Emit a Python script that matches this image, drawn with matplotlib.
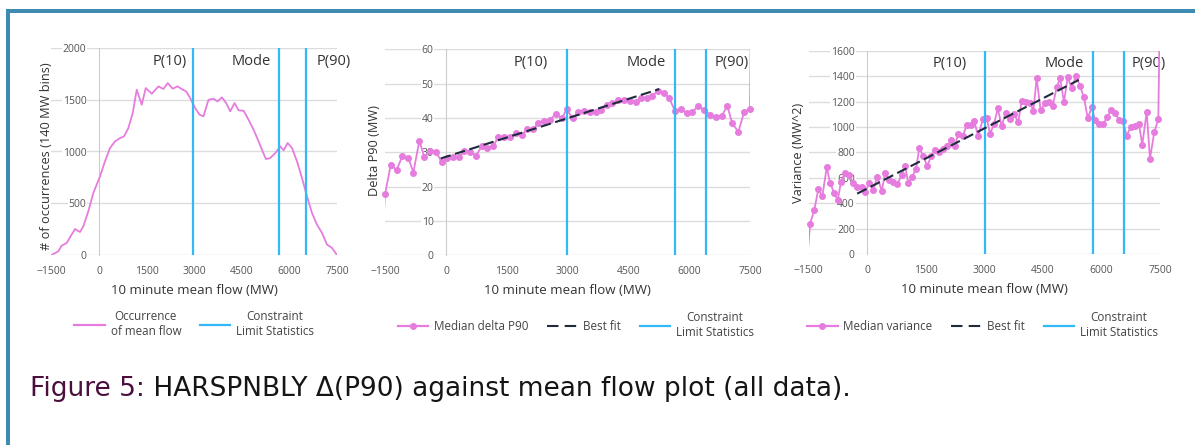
import numpy as np
import matplotlib
matplotlib.use("Agg")
import matplotlib.pyplot as plt
from matplotlib.patches import Rectangle
from matplotlib.lines import Line2D

plt.rcParams['font.family'] = ['Open Sans', 'DejaVu Sans']

PINK = "#e67cde"
BLUE = "#33b9f5"
NAVY = "#1d2b3b"
GRID = "#dcdcdc"
TEXT = "#333333"

# ---- data ----
x_ticks = [-1500, 0, 1500, 3000, 4500, 6000, 7500]
stat_names = ["P(10)", "Mode", "P(90)"]

# left: occurrences of mean flow (140 MW bins)
occ_x = [-1500, -1283, -1178, -1020, -757, -600, -494, -337, -179, 32, 189, 347, 505,
         663, 789, 926, 1062, 1189, 1347, 1473, 1662, 1873, 2030, 2167, 2325, 2472,
         2640, 2746, 2872, 3030, 3167, 3293, 3451, 3609, 3735, 3872, 4008, 4135, 4272,
         4398, 4556, 4713, 4871, 5029, 5134, 5260, 5397, 5555, 5713, 5818, 5944, 6081,
         6239, 6397, 6555, 6712, 6870, 7028, 7186, 7343, 7500]
occ_y = [0, 35, 90, 116, 251, 222, 277, 422, 599, 760, 905, 1034, 1098,
         1130, 1146, 1227, 1372, 1597, 1452, 1613, 1558, 1629, 1604, 1661, 1607, 1629,
         1597, 1581, 1517, 1420, 1356, 1340, 1500, 1510, 1484, 1523, 1468, 1388, 1468,
         1398, 1394, 1307, 1211, 1098, 1018, 927, 937, 985, 1050, 1011, 1082, 1034,
         905, 744, 567, 406, 293, 213, 100, 68, 0]
occ_stats = [2962, 5673, 6524]
occ_label_x = [2222, 4812, 7385]

# middle: median delta P90
p90_x = [-1560, -1505, -1365, -1217, -1077, -929, -806, -658, -535, -395, -247,
         -107, 33, 181, 329, 452, 592, 740, 880, 1020, 1168,
         1291, 1439, 1579, 1719, 1867, 2007, 2155, 2278, 2418, 2566,
         2706, 2854, 2977, 3125, 3265, 3405, 3553, 3693, 3824, 3964,
         4104, 4252, 4392, 4540, 4679, 4811, 4951, 5091, 5239, 5379,
         5510, 5650, 5798, 5938, 6078, 6226, 6366, 6513, 6653, 6801,
         6941, 7064, 7212, 7352, 7500, 7640]
p90_y = [6.0, 17.8, 26.2, 24.9, 28.9, 28.4, 24.1, 33.3, 28.7, 30.5, 30.2,
         27.1, 28.3, 28.7, 28.6, 30.5, 30.2, 29.0, 31.7, 31.2, 31.7,
         34.6, 34.6, 34.6, 35.5, 35.1, 36.8, 36.7, 38.6, 39.2, 39.4,
         41.2, 39.9, 42.5, 39.9, 41.7, 42.1, 41.6, 41.8, 42.3, 43.8,
         44.5, 45.1, 45.2, 45.0, 44.6, 45.7, 45.7, 46.5, 47.9, 47.4,
         45.7, 42.0, 42.5, 41.4, 41.8, 43.5, 42.3, 41.0, 40.2, 40.6,
         43.5, 38.4, 36.0, 41.6, 42.7, 200.0]
p90_fit_x = [-130, 5260]
p90_fit_y = [28.2, 48.4]
p90_stats = [2985, 5650, 6415]
p90_label_x = [2097, 4930, 7040]

# right: median variance
var_x = [-1572, -1468, -1357, -1255, -1153, -1040, -956, -846, -759, -674, -571, -461,
         -359, -256, -143, -59, 51, 154, 256, 369, 454, 564, 666, 769, 881, 966,
         1051, 1153, 1248, 1333, 1435, 1537, 1632, 1735, 1845, 1948, 2050, 2145,
         2247, 2332, 2445, 2547, 2645, 2734, 2845, 2957, 3059, 3144, 3246, 3341,
         3443, 3545, 3656, 3759, 3869, 3955, 4066, 4168, 4254, 4339, 4442, 4553,
         4655, 4750, 4853, 4937, 5040, 5134, 5237, 5347, 5450, 5553, 5647, 5749,
         5834, 5936, 6047, 6150, 6245, 6355, 6449, 6543, 6646, 6749, 6859, 6961,
         7046, 7159, 7243, 7353, 7456, 7560]
var_y = [-170, 238, 350, 511, 455, 683, 561, 477, 424, 569, 641, 622,
         561, 530, 525, 490, 557, 503, 609, 495, 636, 583, 569, 549, 622, 696,
         557, 609, 670, 835, 768, 694, 768, 816, 800, 827, 853, 895,
         853, 948, 927, 1015, 1015, 1046, 927, 1060, 1070, 948, 1020, 1147,
         1006, 1113, 1065, 1099, 1038, 1205, 1197, 1192, 1126, 1383, 1131, 1185,
         1197, 1166, 1312, 1383, 1197, 1391, 1304, 1404, 1320, 1232, 1068, 1153,
         1054, 1020, 1020, 1081, 1134, 1107, 1054, 1046, 932, 999, 1006, 1020,
         861, 1118, 750, 959, 1060, 3200]
var_fit_x = [-260, 5420]
var_fit_y = [475, 1370]
var_stats = [3006, 5791, 6577]
var_label_x = [2106, 5052, 7218]

W, H = 1195, 445
fig = plt.figure(figsize=(W / 100, H / 100), dpi=100)
FIT_DASH = (5, 2.2)
LEG_DASH = (5.5, 3)


def px_axes(x0, x1, ytop, ybot):
    return fig.add_axes([x0 / W, 1 - ybot / H, (x1 - x0) / W, (ybot - ytop) / H])


def style(ax, ylim, yticks, ylabel, ylab_pos):
    ax.set_xlim(-1500, 7500)
    ax.set_ylim(*ylim)
    ax.set_xticks(x_ticks)
    ax.set_yticks(yticks)
    for s in ["top", "right", "bottom"]:
        ax.spines[s].set_visible(False)
    ax.spines["left"].set_position(("data", 0))
    ax.spines["left"].set_color("#cccccc")
    ax.grid(axis="y", color=GRID, lw=1)
    ax.set_axisbelow(True)
    ax.tick_params(length=0, labelsize=7.5, labelcolor="#555555")
    ax.tick_params(axis="x", pad=8)
    ax.tick_params(axis="y", pad=9)
    for lab in ax.get_yticklabels():
        lab.set_bbox(dict(facecolor="white", edgecolor="none", pad=0.6))
    ax.set_xlabel("10 minute mean flow (MW)", fontsize=9.5, color=TEXT, labelpad=5)
    ax.set_ylabel(ylabel, fontsize=9.2, color=TEXT)
    ax.yaxis.set_label_coords(*ylab_pos)


def stat_lines(ax, xs, label_xs):
    for xv in xs:
        ax.axvline(xv, color=BLUE, lw=1.6, zorder=5)
    for name, lx in zip(stat_names, label_xs):
        ax.annotate(name, xy=(lx, 1), xycoords=("data", "axes fraction"),
                    xytext=(0, -4), textcoords="offset points",
                    ha="center", va="top", fontsize=10.5, color="#333333")


def legend(ax, handles, labels, anchor):
    leg = ax.legend(handles, labels, loc="center", bbox_to_anchor=anchor, ncol=len(handles),
                    frameon=False, fontsize=8.4, handlelength=2.6, columnspacing=1.6,
                    handletextpad=0.5, labelcolor="#444444")
    for t in leg.get_texts():
        t.set_multialignment("center")


# left panel
ax1 = px_axes(51.4, 337, 48, 255)
ax1.plot(occ_x, occ_y, color=PINK, lw=1.3, zorder=4)
style(ax1, (0, 2000), [0, 500, 1000, 1500, 2000], "# of occurrences (140 MW bins)", (0.006, 0.478))
stat_lines(ax1, occ_stats, occ_label_x)
legend(ax1,
       [Line2D([], [], color=PINK, lw=1.6), Line2D([], [], color=BLUE, lw=1.6)],
       ["Occurrence\nof mean flow", "Constraint\nLimit Statistics"], (0.5, -0.335))

# middle panel
ax2 = px_axes(385.2, 750, 49.3, 255.3)
ax2.plot(p90_x, p90_y, color=PINK, lw=1.3, zorder=4)
inside = [(a, b) for a, b in zip(p90_x, p90_y) if -1510 <= a <= 7500]
ax2.plot([a for a, b in inside], [b for a, b in inside], ls="none", marker="o", ms=4,
         color=PINK, zorder=4, clip_on=False)
ax2.plot(p90_fit_x, p90_fit_y, color=NAVY, lw=1.5, dashes=FIT_DASH, zorder=6)
style(ax2, (0, 60), [0, 10, 20, 30, 40, 50, 60], "Delta P90 (MW)", (-0.012, 0.509))
stat_lines(ax2, p90_stats, p90_label_x)
legend(ax2,
       [Line2D([], [], color=PINK, lw=1.6, marker="o", ms=4),
        Line2D([], [], color=NAVY, lw=1.5, dashes=LEG_DASH),
        Line2D([], [], color=BLUE, lw=1.6)],
       ["Median delta P90", "Best fit", "Constraint\nLimit Statistics"], (0.523, -0.338))

# right panel
ax3 = px_axes(808.8, 1160, 50.7, 254)
ax3.plot(var_x, var_y, color=PINK, lw=1.3, zorder=4)
inside = [(a, b) for a, b in zip(var_x, var_y) if -1500 <= a <= 7500]
ax3.plot([a for a, b in inside], [b for a, b in inside], ls="none", marker="o", ms=4,
         color=PINK, zorder=4, clip_on=False)
ax3.plot(var_fit_x, var_fit_y, color=NAVY, lw=1.5, dashes=FIT_DASH, zorder=6)
style(ax3, (0, 1600), list(range(0, 1601, 200)), "Variance (MW^2)", (-0.011, 0.497))
stat_lines(ax3, var_stats, var_label_x)
legend(ax3,
       [Line2D([], [], color=PINK, lw=1.6, marker="o", ms=4),
        Line2D([], [], color=NAVY, lw=1.5, dashes=LEG_DASH),
        Line2D([], [], color=BLUE, lw=1.6)],
       ["Median variance", "Best fit", "Constraint\nLimit Statistics"], (0.495, -0.35))

# frame
BORDER = "#3f8ab0"
fig.add_artist(Rectangle((6 / W, 1 - 13.3 / H), 1, 4 / H, transform=fig.transFigure,
                         color=BORDER, lw=0))
fig.add_artist(Rectangle((6 / W, 0), 4 / W, 1 - 9.3 / H, transform=fig.transFigure,
                         color=BORDER, lw=0))

# caption
cap_font = ["DejaVu Sans"]
t1 = fig.text(30 / W, 1 - 396 / H, "Figure 5:", fontsize=19, color="#4a0f3c",
              va="baseline", family=cap_font)
fig.add_artist(plt.Annotation(" HARSPNBLY \u0394(P90) against mean flow plot (all data).",
                              xy=(1, 0), xycoords=t1, va="bottom", ha="left",
                              fontsize=19, color="#151515", family=cap_font))

fig.savefig("out.png", dpi=100)
